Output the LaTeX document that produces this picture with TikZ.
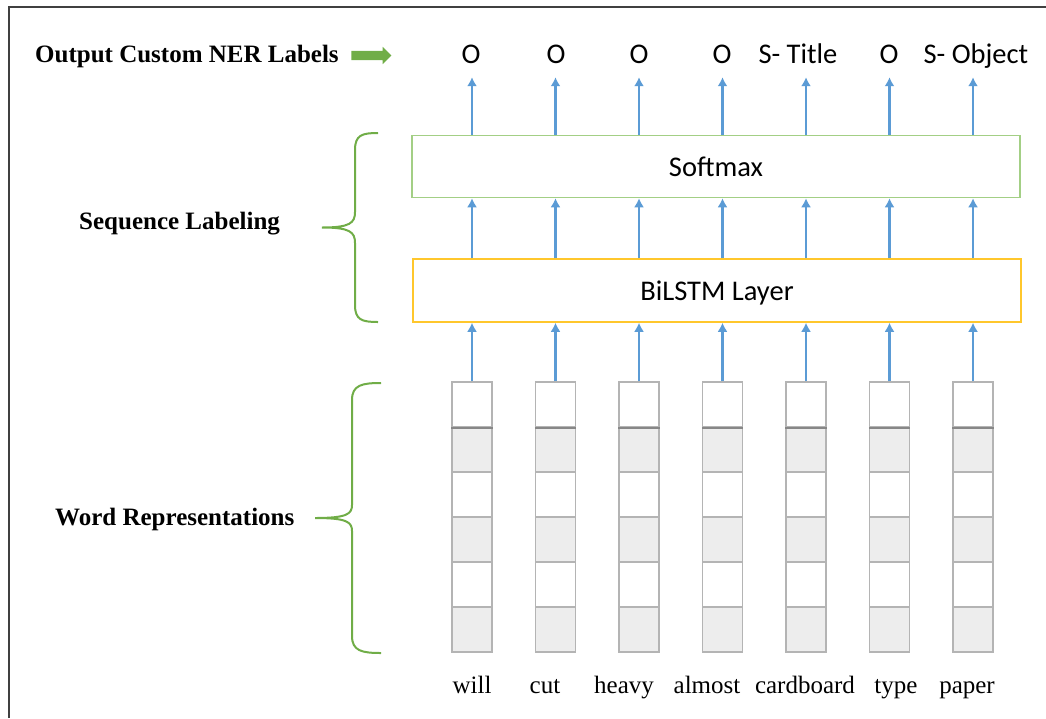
\documentclass[tikz,border=0pt]{standalone}
\usepackage{fontspec}
\setmainfont{Liberation Serif}
\newfontfamily\calibri{Carlito}
\usetikzlibrary{arrows.meta,shapes.arrows}
\definecolor{arrowblue}{HTML}{5B9BD5}
\definecolor{bracegreen}{HTML}{70AD47}
\definecolor{smaxgreen}{HTML}{A3CF85}
\definecolor{lstmyellow}{HTML}{FFC72C}
\definecolor{cellgray}{HTML}{EDEDED}
\definecolor{celledge}{HTML}{B4B4B4}
\definecolor{framegray}{HTML}{404040}

\begin{document}
\begin{tikzpicture}[x=1pt,y=-1pt,
	uparrow/.style={arrowblue,line width=2.2pt,-{Latex[length=9pt,width=10pt]}},
	bigbrace/.style={bracegreen,line width=2pt},
	layerbox/.style={line width=1.5pt,minimum width=608pt,inner sep=0pt,font=\calibri\fontsize{28.5}{33}\selectfont,text height=19pt,text depth=0pt},
	tag/.style={anchor=base,inner sep=0pt,text depth=0pt,font=\calibri\fontsize{28.5}{33}\selectfont},
	word/.style={anchor=base,inner sep=0pt,font=\fontsize{25}{30}\selectfont},
	heading/.style={anchor=base west,inner sep=0pt,font=\bfseries\fontsize{25}{30}\selectfont},
	cell/.style={draw=celledge,line width=1.5pt,minimum width=40pt,minimum height=45pt,inner sep=0pt}]
	\useasboundingbox (0,0) rectangle (1046,718);
	\draw[framegray,line width=2pt] (8.5,718) -- (8.5,6.5) -- (1046,6.5);
	
	% headings on the left
	\node[heading] (outhead) at (35,62) {Output Custom NER Labels};
	\node[single arrow,fill=bracegreen,minimum height=40pt,minimum width=17pt,single arrow head extend=4pt,single arrow head indent=0pt,inner sep=4.5pt] (outarrow) at (369,55.5) {};
	\node[heading] (seqhead) at (79,229) {Sequence Labeling};
	\node[heading] (wordhead) at (55,525) {Word Representations};
	
	\draw[bigbrace] (378,133) .. controls (362,133) and (355,135) .. (355,150) -- (355,212) .. controls (355,223) and (350,227.5) .. (322,227.5) .. controls (350,227.5) and (355,232) .. (355,243) -- (355,305) .. controls (355,320) and (362,322) .. (378,322);
	\draw[bigbrace] (381,383) .. controls (362,383) and (352,385) .. (352,400) -- (352,505) .. controls (352,514) and (347,518) .. (315,518) .. controls (347,518) and (352,522) .. (352,531) -- (352,636) .. controls (352,651) and (362,653) .. (381,653);
	
	% layers
	\node[layerbox,draw=smaxgreen,minimum height=62pt] (smax) at (716,166.5) {Softmax};
	\node[layerbox,draw=lstmyellow,minimum height=63pt] (lstm) at (717,290.5) {BiLSTM Layer};
	
	% word vectors
	\foreach \i in {1,...,7}{
		\foreach \j/\shade in {1/white,2/cellgray,3/white,4/cellgray,5/white,6/cellgray}{
			\node[cell,fill=\shade] (v\i-\j) at ({472+83.5*(\i-1)},{404.5+45*(\j-1)}) {};
		}
		\draw[celledge!75!black,line width=2pt] (v\i-1.south west) -- (v\i-1.south east);
	}
	
	% output tags
	\node[tag] (l1) at (471,63) {O};
	\node[tag] (l2) at (556,63) {O};
	\node[tag] (l3) at (639,63) {O};
	\node[tag] (l4) at (722,63) {O};
	\node[tag] (l5) at (798,63) {S- Title};
	\node[tag] (l6) at (889,63) {O};
	\node[tag] (l7) at (976,63) {S- Object};
	
	% input words
	\node[word] (w1) at (472,693) {will};
	\node[word] (w2) at (545,693) {cut};
	\node[word] (w3) at (624,693) {heavy};
	\node[word] (w4) at (707,693) {almost};
	\node[word] (w5) at (805,693) {cardboard};
	\node[word] (w6) at (896,693) {type};
	\node[word] (w7) at (967,693) {paper};
	
	\draw[uparrow] (v1-1.north) -- (v1-1.north |- lstm.south);
	\draw[uparrow] (v2-1.north) -- (v2-1.north |- lstm.south);
	\draw[uparrow] (v3-1.north) -- (v3-1.north |- lstm.south);
	\draw[uparrow] (v4-1.north) -- (v4-1.north |- lstm.south);
	\draw[uparrow] (v5-1.north) -- (v5-1.north |- lstm.south);
	\draw[uparrow] (v6-1.north) -- (v6-1.north |- lstm.south);
	\draw[uparrow] (v7-1.north) -- (v7-1.north |- lstm.south);
	
	\draw[uparrow] (lstm.north -| v1-1) -- (smax.south -| v1-1);
	\draw[uparrow] (lstm.north -| v2-1) -- (smax.south -| v2-1);
	\draw[uparrow] (lstm.north -| v3-1) -- (smax.south -| v3-1);
	\draw[uparrow] (lstm.north -| v4-1) -- (smax.south -| v4-1);
	\draw[uparrow] (lstm.north -| v5-1) -- (smax.south -| v5-1);
	\draw[uparrow] (lstm.north -| v6-1) -- (smax.south -| v6-1);
	\draw[uparrow] (lstm.north -| v7-1) -- (smax.south -| v7-1);
	
	\draw[uparrow,shorten >=14pt] (smax.north -| v1-1) -- (l1.south -| v1-1);
	\draw[uparrow,shorten >=14pt] (smax.north -| v2-1) -- (l2.south -| v2-1);
	\draw[uparrow,shorten >=14pt] (smax.north -| v3-1) -- (l3.south -| v3-1);
	\draw[uparrow,shorten >=14pt] (smax.north -| v4-1) -- (l4.south -| v4-1);
	\draw[uparrow,shorten >=14pt] (smax.north -| v5-1) -- (l5.south -| v5-1);
	\draw[uparrow,shorten >=14pt] (smax.north -| v6-1) -- (l6.south -| v6-1);
	\draw[uparrow,shorten >=14pt] (smax.north -| v7-1) -- (l7.south -| v7-1);
\end{tikzpicture}
\end{document}
